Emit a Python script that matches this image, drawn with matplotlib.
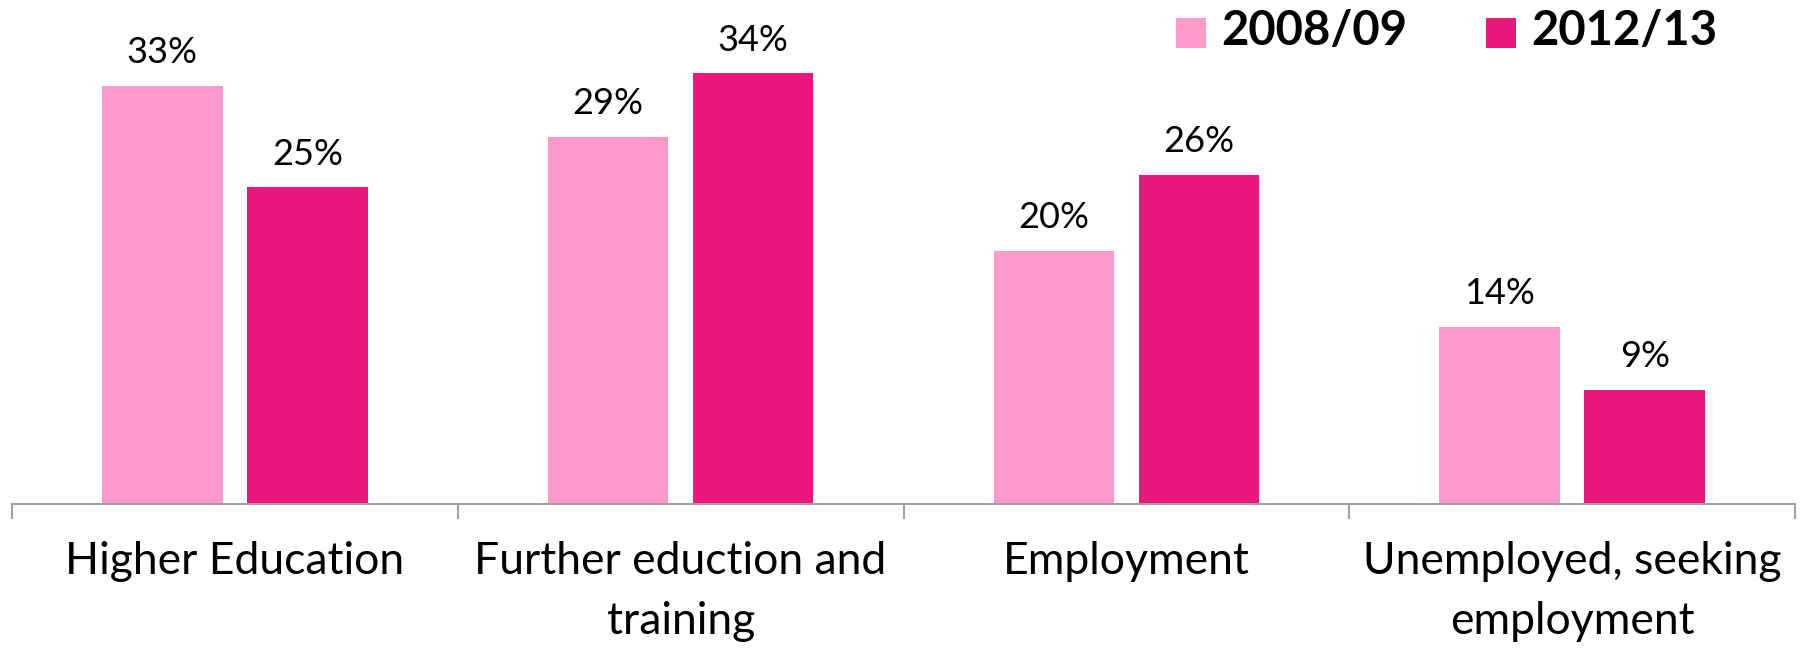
import matplotlib
matplotlib.use("Agg")
import matplotlib.pyplot as plt
from matplotlib.patches import Rectangle
import numpy as np

categories = ["Higher Education", "Further eduction and\ntraining", "Employment",
              "Unemployed, seeking\nemployment"]
series_names = ["2008/09", "2012/13"]
values_0809 = [33, 29, 20, 14]
values_1213 = [25, 34, 26, 9]
colors = ["#FF99CC", "#E8187C"]

plt.rcParams['font.family'] = ['Lato', 'DejaVu Sans']

W, H = 1805, 648
fig = plt.figure(figsize=(W / 100, H / 100), dpi=100)
ax_left, ax_right, ax_base = 12, 1795, 504
ax = fig.add_axes([ax_left / W, (H - ax_base) / H, (ax_right - ax_left) / W, ax_base / H])
ax.set_xlim(-0.5, len(categories) - 0.5)
ax.set_ylim(0, ax_base / 12.67)

x = np.arange(len(categories))
bw = 0.27
off = 0.1627
b1 = ax.bar(x - off, values_0809, bw, color=colors[0], label=series_names[0])
b2 = ax.bar(x + off, values_1213, bw, color=colors[1], label=series_names[1])

for bars, vals in ((b1, values_0809), (b2, values_1213)):
    for rect, v in zip(bars, vals):
        ax.annotate(f"{v}%", (rect.get_x() + rect.get_width() / 2, rect.get_height()),
                    xytext=(0, 12), textcoords="offset points", ha="center", va="bottom",
                    fontsize=26, annotation_clip=False)

for s in ["top", "right", "left"]:
    ax.spines[s].set_visible(False)
ax.spines["bottom"].set_color("#A0A0A0")
ax.spines["bottom"].set_linewidth(1.5)
ax.set_yticks([])
ax.set_xticks(x)
ax.set_xticklabels(categories, fontsize=32, linespacing=1.55)
ax.tick_params(axis="x", which="major", length=0, pad=27)
ax.set_xticks(np.arange(-0.5, len(categories)), minor=True)
ax.tick_params(axis="x", which="minor", length=11, width=1.5, color="#A0A0A0")

# legend
for i, (name, c) in enumerate(zip(series_names, colors)):
    x0 = [1176, 1486][i]
    fig.patches.append(Rectangle((x0 / W, 1 - 48 / H), 30 / W, 30 / H, transform=fig.transFigure,
                                 facecolor=c, edgecolor="none"))
    fig.text((x0 + 45) / W, 1 - 31 / H, name, fontsize=34, fontweight="bold", va="center", ha="left")

fig.savefig("out.png", dpi=100, facecolor="white")
